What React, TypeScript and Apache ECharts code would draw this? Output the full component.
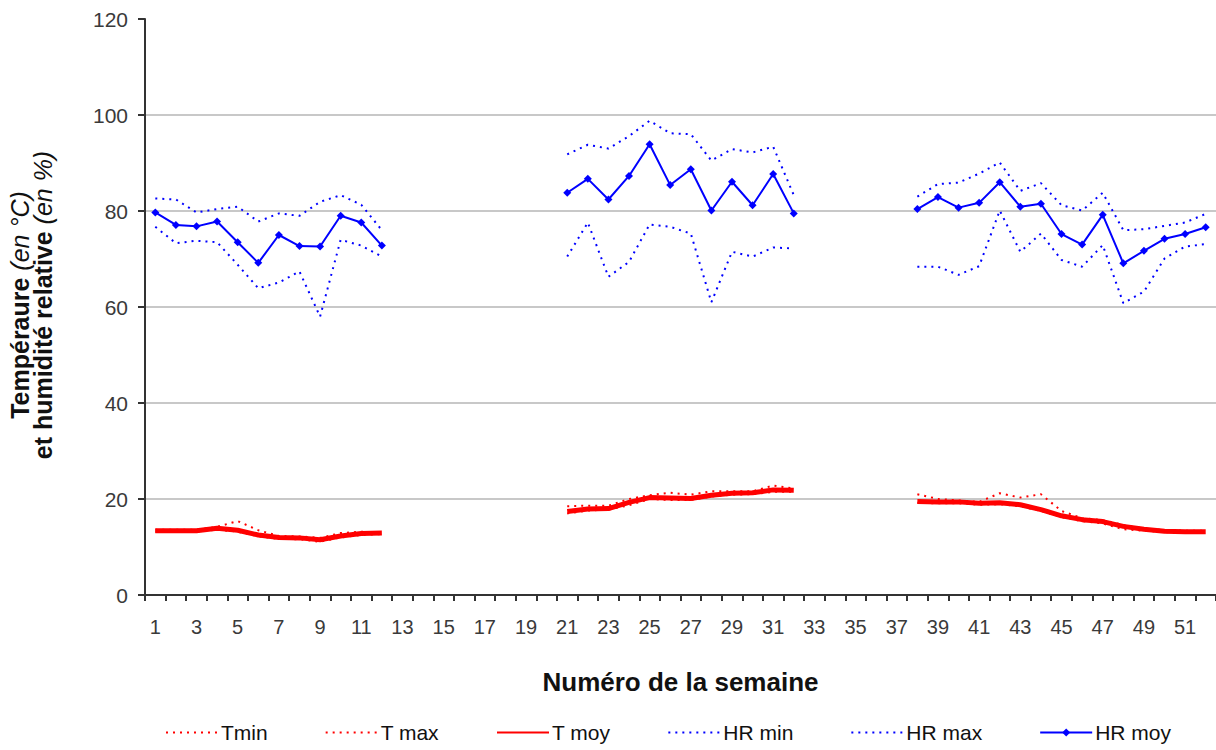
import React, { useEffect, useRef } from "react";
import * as echarts from "echarts";

const weeks: string[] = [
  "1","2","3","4","5","6","7","8","9","10","11","12","13","14","15","16","17","18","19","20",
  "21","22","23","24","25","26","27","28","29","30","31","32","33","34","35","36","37","38","39","40",
  "41","42","43","44","45","46","47","48","49","50","51","52",
];

const yTicks = [0, 20, 40, 60, 80, 100, 120];

const _ = null;

// weeks 1-12, 13-20 (no data), 21-32, 33-37 (no data), 38-52
const tMin = [
  13.2, 13.2, 13.2, 13.6, 13.2, 12.2, 11.7, 11.6, 11.1, 12.0, 12.5, 12.7,
  _, _, _, _, _, _, _, _,
  17.0, 17.6, 17.8, 18.7, 20.0, 19.8, 19.8, 20.5, 20.9, 21.0, 21.5, 21.5,
  _, _, _, _, _,
  19.2, 19.1, 19.1, 18.8, 18.9, 18.5, 17.5, 16.2, 15.4, 14.9, 13.7, 13.4, 13.1, 13.0, 13.0,
];
const tMax = [
  13.6, 13.6, 13.6, 14.2, 15.4, 13.5, 12.3, 12.2, 11.9, 12.9, 13.2, 13.0,
  _, _, _, _, _, _, _, _,
  18.5, 18.6, 18.6, 20.0, 20.8, 21.3, 20.9, 21.6, 21.6, 21.6, 22.8, 22.2,
  _, _, _, _, _,
  21.0, 20.0, 19.7, 19.4, 21.2, 20.3, 21.0, 17.5, 16.0, 15.6, 14.6, 13.9, 13.5, 13.4, 13.4,
];
const tMoy = [
  13.4, 13.4, 13.4, 13.9, 13.5, 12.5, 12.0, 11.9, 11.5, 12.3, 12.8, 12.9,
  _, _, _, _, _, _, _, _,
  17.4, 17.9, 18.0, 19.3, 20.3, 20.2, 20.1, 20.8, 21.2, 21.3, 21.9, 21.8,
  _, _, _, _, _,
  19.5, 19.4, 19.4, 19.1, 19.2, 18.8, 17.8, 16.5, 15.7, 15.3, 14.3, 13.7, 13.3, 13.2, 13.2,
];
const hrMin = [
  76.7, 73.3, 73.8, 73.5, 68.8, 63.9, 65.1, 67.4, 58.0, 74.0, 72.8, 70.5,
  _, _, _, _, _, _, _, _,
  70.5, 77.6, 66.3, 69.4, 77.2, 76.7, 75.3, 61.0, 71.5, 70.5, 72.4, 72.2,
  _, _, _, _, _,
  68.4, 68.4, 66.7, 68.5, 80.1, 71.5, 75.3, 69.8, 68.4, 72.9, 60.8, 63.2, 70.1, 72.6, 73.1,
];
const hrMax = [
  82.6, 82.4, 79.7, 80.4, 80.9, 77.8, 79.5, 79.0, 81.9, 83.3, 81.3, 76.0,
  _, _, _, _, _, _, _, _,
  91.8, 93.8, 93.0, 95.6, 98.8, 96.2, 96.0, 90.5, 92.9, 92.2, 93.4, 83.3,
  _, _, _, _, _,
  83.0, 85.6, 85.9, 87.8, 90.1, 84.2, 85.8, 81.2, 80.1, 83.8, 76.0, 76.2, 76.9, 77.6, 79.4,
];
const hrMoy = [
  79.7, 77.1, 76.8, 77.8, 73.5, 69.2, 75.0, 72.7, 72.6, 79.0, 77.6, 72.8,
  _, _, _, _, _, _, _, _,
  83.8, 86.7, 82.4, 87.3, 93.9, 85.4, 88.7, 80.1, 86.1, 81.2, 87.7, 79.5,
  _, _, _, _, _,
  80.4, 82.9, 80.7, 81.7, 86.0, 80.9, 81.5, 75.2, 73.0, 79.2, 69.1, 71.7, 74.2, 75.2, 76.6,
];

const seriesNames = ["Tmin", "T max", "T moy", "HR min", "HR max", "HR moy"];

const FONT = "'Liberation Sans', Arial, sans-serif";
const RED = "#ff0000";
const BLUE = "#0000ff";

export default function App() {
  const ref = useRef<HTMLDivElement>(null);
  useEffect(() => {
    if (!ref.current) return;
    const chart = echarts.init(ref.current, undefined, { renderer: "svg" });
    const dotted = (color: string) => ({ color, width: 2, type: [2, 5] as any });
    const option: any = {
      animation: false,
      backgroundColor: "#ffffff",
      textStyle: { fontFamily: FONT },
      grid: { left: 145, top: 19, width: 1075, height: 576, containLabel: false },
      legend: {
        data: seriesNames.map((n) =>
          n === "HR moy" ? { name: n } : { name: n, itemStyle: { opacity: 0 } }
        ),
        left: 160,
        top: 717,
        itemWidth: 52,
        itemHeight: 10,
        itemGap: 57,
        textStyle: { fontSize: 21, color: "#111", fontFamily: FONT, padding: [0, 0, 0, -2] },
      },
      xAxis: {
        type: "category",
        data: weeks,
        boundaryGap: true,
        axisLine: { lineStyle: { color: "#333", width: 2 } },
        axisTick: { show: true, interval: 0, length: 6, lineStyle: { color: "#333", width: 2 } },
        axisLabel: { interval: 1, margin: 22, fontSize: 20, color: "#3a3a3a", fontFamily: FONT },
        name: "Numéro de la semaine",
        nameLocation: "middle",
        nameGap: 74,
        nameTextStyle: { fontSize: 26, fontWeight: "bold", color: "#111", fontFamily: FONT },
        splitLine: { show: false },
      },
      yAxis: {
        type: "value",
        min: yTicks[0],
        max: yTicks[yTicks.length - 1],
        interval: 20,
        axisLine: { show: true, lineStyle: { color: "#333", width: 2 } },
        axisTick: { show: true, length: 7, lineStyle: { color: "#333", width: 2 } },
        axisLabel: { margin: 17, fontSize: 21, color: "#3a3a3a", fontFamily: FONT },
        splitLine: { show: true, showMaxLine: false, lineStyle: { color: "#c8c8c8", width: 2 } },
      },
      graphic: [
        {
          type: "text",
          x: 31,
          y: 305,
          rotation: Math.PI / 2,
          style: {
            text: "{b|Tempéraure }{i|(en °C)}\n{b|et humidité relative }{i|(en %)}",
            align: "center",
            verticalAlign: "middle",
            rich: {
              b: { fontWeight: "bold", fontSize: 25, lineHeight: 23, fill: "#111", fontFamily: FONT },
              i: { fontStyle: "italic", fontSize: 25, lineHeight: 23, fill: "#111", fontFamily: FONT },
            },
          },
        },
      ],
      series: [
        {
          name: "Tmin", type: "line", data: tMin, symbol: "none", connectNulls: false,
          lineStyle: dotted(RED), itemStyle: { color: RED },
        },
        {
          name: "T max", type: "line", data: tMax, symbol: "none", connectNulls: false,
          lineStyle: dotted(RED), itemStyle: { color: RED },
        },
        {
          name: "T moy", type: "line", data: tMoy, symbol: "none", connectNulls: false,
          lineStyle: { color: RED, width: 5 }, itemStyle: { color: RED },
        },
        {
          name: "HR min", type: "line", data: hrMin, symbol: "none", connectNulls: false,
          lineStyle: dotted(BLUE), itemStyle: { color: BLUE },
        },
        {
          name: "HR max", type: "line", data: hrMax, symbol: "none", connectNulls: false,
          lineStyle: dotted(BLUE), itemStyle: { color: BLUE },
        },
        {
          name: "HR moy", type: "line", data: hrMoy, symbol: "diamond", symbolSize: 8,
          showSymbol: true, connectNulls: false,
          lineStyle: { color: BLUE, width: 2 }, itemStyle: { color: BLUE },
        },
      ],
    };
    chart.setOption(option);
    return () => chart.dispose();
  }, []);
  return (
    <div
      ref={ref}
      style={{ position: "absolute", left: 0, top: 0, width: 1216, height: 750, overflow: "hidden" }}
    />
  );
}
